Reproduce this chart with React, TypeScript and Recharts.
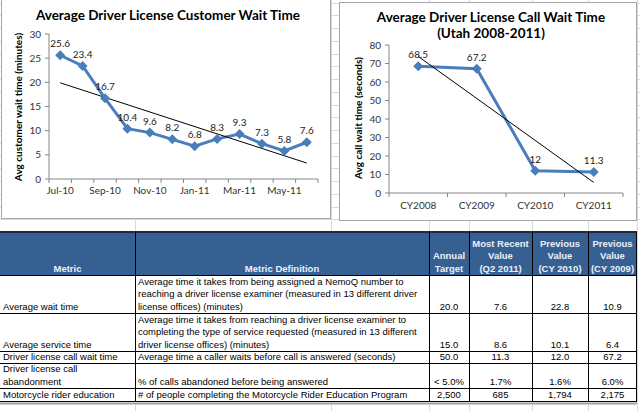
import React from 'react'
import { LineChart, Line, XAxis, YAxis, LabelList } from 'recharts'

// customer wait time, monthly (minutes)
const custMonths = ['Jul-10', 'Aug-10', 'Sep-10', 'Oct-10', 'Nov-10', 'Dec-10', 'Jan-11', 'Feb-11', 'Mar-11', 'Apr-11', 'May-11', 'Jun-11']
const custWait = [25.6, 23.4, 16.7, 10.4, 9.6, 8.2, 6.8, 8.3, 9.3, 7.3, 5.8, 7.6]
const custTrend = [19.9, null, null, null, null, null, null, null, null, null, null, 3.3]
const custTicks = [0, 5, 10, 15, 20, 25, 30]

// call wait time, yearly (seconds)
const callYears = ['CY2008', 'CY2009', 'CY2010', 'CY2011']
const callWait = [68.5, 67.2, 12, 11.3]
const callTrend = [73.8, null, null, 5.7]
const callTicks = [0, 10, 20, 30, 40, 50, 60, 70, 80]

// table
const headers = [['Metric'], ['Metric Definition'], ['Annual', 'Target'], ['Most Recent', 'Value', '(Q2 2011)'], ['Previous', 'Value', '(CY 2010)'], ['Previous', 'Value', '(CY 2009)']]
const metrics = [['Average wait time'], ['Average service time'], ['Driver license call wait time'], ['Driver license call', 'abandonment'], ['Motorcycle rider education']]
const definitions = [
  ['Average time it takes from being assigned a NemoQ number to', 'reaching a driver license examiner (measured in 13 different driver', 'license offices) (minutes)'],
  ['Average time it takes from reaching a driver license examiner to', 'completing the type of service requested (measured in 13 different', 'driver license offices) (minutes)'],
  ['Average time a caller waits before call is answered (seconds)'],
  ['% of calls abandoned before being answered'],
  ['# of people completing the Motorcycle Rider Education Program'],
]
const targets = ['20.0', '15.0', '50.0', '< 5.0%', '2,500']
const recent = ['7.6', '8.6', '11.3', '1.7%', '685']
const prev2010 = ['22.8', '10.1', '12.0', '1.6%', '1,794']
const prev2009 = ['10.9', '6.4', '67.2', '6.0%', '2,175']

const custData = custMonths.map((m, i) => ({ m, v: custWait[i], t: custTrend[i] }))
const callData = callYears.map((y, i) => ({ y, v: callWait[i], t: callTrend[i] }))

const BLUE = '#4A7EBB'
const AXIS = '#868686'
const CHART_FONT = 'Lato, "Open Sans", sans-serif'
const TABLE_FONT = '"Liberation Sans", Arial, sans-serif'

const colWidths = [135, 294, 40, 63, 56, 49]
// row borders in page pixels: header bottom, then each body row bottom
const rowTops = [275, 313, 351, 363, 388, 401]
const LINE = 12.5

const Diamond = (props: any) => {
  const { cx, cy } = props
  if (cx == null || cy == null) return null
  return <path d={`M${cx},${cy - 5}L${cx + 5},${cy}L${cx},${cy + 5}L${cx - 5},${cy}Z`} fill={BLUE} />
}

const BoundaryTick = (props: any) => {
  const { x, y, payload, index, band, count, every, dy } = props
  return (
    <g>
      <line x1={x - band / 2} x2={x - band / 2} y1={y} y2={y + 4} stroke={AXIS} />
      {index === count - 1 && <line x1={x + band / 2} x2={x + band / 2} y1={y} y2={y + 4} stroke={AXIS} />}
      {index % every === 0 && (
        <text x={x} y={y + dy} textAnchor="middle" fontSize={10} fill="#333" fontFamily={CHART_FONT}>
          {payload.value}
        </text>
      )}
    </g>
  )
}

const gridX = [135, 331, 429, 469, 532, 588, 637]
const gridY = Array.from({ length: 19 }, (_, i) => 232 - 12.75 * (i + 1))

const CUST_BAND = 269 / 12
const CALL_BAND = 234 / 4

const colLefts = colWidths.map((_, i) => colWidths.slice(0, i).reduce((a, b) => a + b, 0))

// one table cell, absolutely placed, text sits on its bottom edge
const Cell: React.FC<{ col: number; top: number; bottom: number; lines: string[]; header?: boolean }> = ({ col, top, bottom, lines, header }) => {
  const center = header || col >= 2
  return (
    <div
      style={{
        position: 'absolute', left: colLefts[col], top, width: colWidths[col], height: bottom - top,
        display: 'flex', flexDirection: 'column', justifyContent: 'flex-end', alignItems: center ? 'center' : 'flex-start',
        padding: center ? 0 : '0 2px 0 3px', boxSizing: 'border-box', overflow: 'visible', whiteSpace: 'nowrap',
        fontFamily: TABLE_FONT, fontSize: 9.5, lineHeight: LINE + 'px',
        fontWeight: header ? 700 : 400, color: header ? '#EAF0F8' : '#000',
      }}
    >
      {lines.map((l, j) => <div key={j} style={{ height: LINE, flexShrink: 0 }}>{l}</div>)}
    </div>
  )
}

const App: React.FC = () => {
  const bodyCols = [metrics, definitions, targets.map((t) => [t]), recent.map((t) => [t]), prev2010.map((t) => [t]), prev2009.map((t) => [t])]
  return (
    <div style={{ position: 'absolute', left: 0, top: 0, width: 640, height: 411, background: '#fff', overflow: 'hidden' }}>
      <svg width={640} height={411} style={{ position: 'absolute', left: 0, top: 0 }}>
        {gridX.map((x) => <line key={'x' + x} x1={x + 0.5} x2={x + 0.5} y1={0} y2={411} stroke="#DADADA" />)}
        {gridY.map((y) => <line key={'y' + y} x1={0} x2={640} y1={Math.round(y) + 0.5} y2={Math.round(y) + 0.5} stroke="#DADADA" />)}
      </svg>

      {/* left chart */}
      <div style={{ position: 'absolute', left: 1, top: -1, width: 330, height: 220, boxSizing: 'border-box', border: '1px solid #A6A6A6', background: '#fff' }}>
        <LineChart width={328} height={218} data={custData} margin={{ top: 34, right: 12, bottom: 0, left: 0 }}>
          <XAxis
            dataKey="m"
            interval={0}
            height={39}
            tickSize={0}
            tickMargin={0}
            tickLine={false}
            padding={{ left: CUST_BAND / 2, right: CUST_BAND / 2 }}
            stroke={AXIS}
            tick={(p: any) => <BoundaryTick {...p} band={CUST_BAND} count={12} every={2} dy={15} />}
          />
          <YAxis
            width={47}
            domain={[0, 30]}
            ticks={custTicks}
            interval={0}
            tickSize={4}
            tickMargin={4}
            stroke={AXIS}
            tick={{ fontSize: 10, fill: '#333', fontFamily: CHART_FONT }}
          />
          <Line dataKey="v" stroke={BLUE} strokeWidth={3} dot={<Diamond />} activeDot={false} isAnimationActive={false}>
            <LabelList dataKey="v" position="top" offset={8} fontSize={10} fill="#222" fontFamily={CHART_FONT} />
          </Line>
          <Line dataKey="t" stroke="#000" strokeWidth={1} dot={false} activeDot={false} connectNulls isAnimationActive={false} />
        </LineChart>
      </div>

      {/* right chart */}
      <div style={{ position: 'absolute', left: 339, top: 2, width: 298, height: 219, boxSizing: 'border-box', border: '1px solid #A6A6A6', background: '#fff' }}>
        <LineChart width={296} height={217} data={callData} margin={{ top: 42, right: 13, bottom: 0, left: 0 }}>
          <XAxis
            dataKey="y"
            interval={0}
            height={27}
            tickSize={0}
            tickMargin={0}
            tickLine={false}
            padding={{ left: CALL_BAND / 2, right: CALL_BAND / 2 }}
            stroke={AXIS}
            tick={(p: any) => <BoundaryTick {...p} band={CALL_BAND} count={4} every={1} dy={16} />}
          />
          <YAxis
            width={49}
            domain={[0, 80]}
            ticks={callTicks}
            interval={0}
            tickSize={4}
            tickMargin={4}
            stroke={AXIS}
            tick={{ fontSize: 10, fill: '#333', fontFamily: CHART_FONT }}
          />
          <Line dataKey="v" stroke={BLUE} strokeWidth={3} dot={<Diamond />} activeDot={false} isAnimationActive={false}>
            <LabelList dataKey="v" position="top" offset={8} fontSize={10} fill="#222" fontFamily={CHART_FONT} />
          </Line>
          <Line dataKey="t" stroke="#000" strokeWidth={1} dot={false} activeDot={false} connectNulls isAnimationActive={false} />
        </LineChart>
      </div>

      {/* titles and axis titles */}
      <svg width={640} height={230} style={{ position: 'absolute', left: 0, top: 0, pointerEvents: 'none' }}>
        <text x={168} y={20} textAnchor="middle" fontSize={13.5} fontWeight={700} fontFamily={CHART_FONT} fill="#000">
          Average Driver License Customer Wait Time
        </text>
        <text x={22} y={0} transform="translate(0,107) rotate(-90,22,0)" textAnchor="middle" fontSize={10} fontWeight={700} fontFamily={CHART_FONT} fill="#000">
          Avg customer wait time (minutes)
        </text>
        <text x={491} y={22} textAnchor="middle" fontSize={13.5} fontWeight={700} fontFamily={CHART_FONT} fill="#000">
          Average Driver License Call Wait Time
        </text>
        <text x={491} y={38} textAnchor="middle" fontSize={13.5} fontWeight={700} fontFamily={CHART_FONT} fill="#000">
          (Utah 2008-2011)
        </text>
        <text x={362} y={0} transform="translate(0,118) rotate(-90,362,0)" textAnchor="middle" fontSize={10} fontWeight={700} fontFamily={CHART_FONT} fill="#000">
          Avg call wait time (seconds)
        </text>
      </svg>

      {/* metrics table */}
      <div style={{ position: 'absolute', left: 0, top: 232, width: 637, height: 44, background: '#366092' }} />
      <div style={{ position: 'absolute', left: 0, top: 231, width: 637, height: 2, background: '#1B2B44' }} />
      <div style={{ position: 'absolute', left: 0, top: 276, width: 637, height: 126, background: '#fff' }} />
      {headers.map((h, c) => <Cell key={'h' + c} col={c} top={233} bottom={275} lines={h} header />)}
      {bodyCols.map((col, c) =>
        col.map((lines, r) => <Cell key={c + '-' + r} col={c} top={rowTops[r] + 1} bottom={rowTops[r + 1]} lines={lines} />)
      )}
      <svg width={640} height={411} style={{ position: 'absolute', left: 0, top: 0, pointerEvents: 'none' }}>
        {rowTops.map((y) => <line key={'r' + y} x1={0} x2={637} y1={y + 0.5} y2={y + 0.5} stroke="#000" />)}
        {colLefts.slice(1).concat([636]).map((x) => <line key={'c' + x} x1={x + 0.5} x2={x + 0.5} y1={232} y2={401} stroke="#000" />)}
        <line x1={0} x2={637} y1={403.5} y2={403.5} stroke="#A0A0A0" strokeWidth={2} />
      </svg>
    </div>
  )
}

export default App
